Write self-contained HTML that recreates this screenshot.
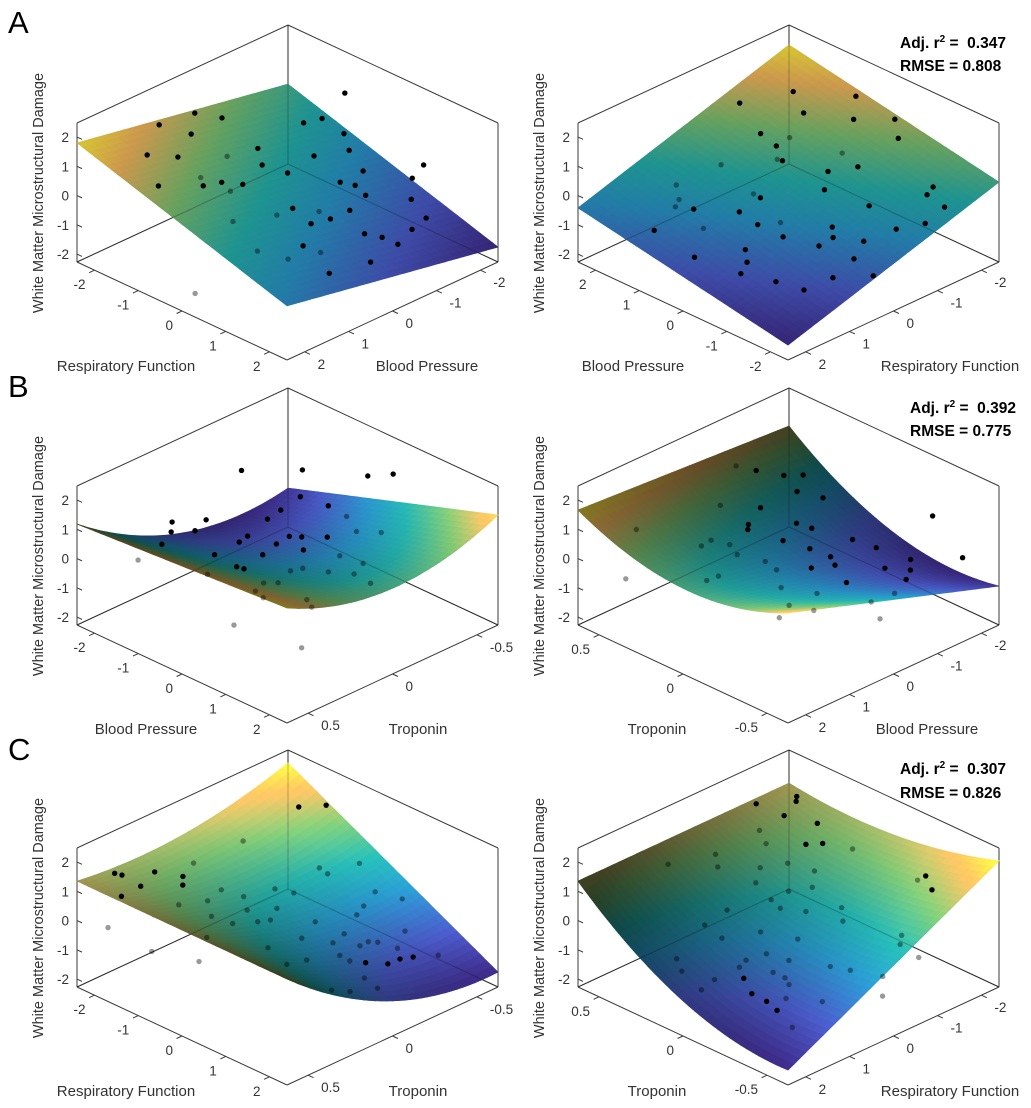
<!DOCTYPE html>
<html><head><meta charset="utf-8"><style>
html,body{margin:0;padding:0;background:#fff;}
svg{display:block;font-family:"Liberation Sans",sans-serif;}
</style></head><body>
<svg id="chart" width="1031" height="1108" viewBox="0 0 1031 1108">
<rect width="1031" height="1108" fill="#fff"/>
<g font-size="31" fill="#000">
<text x="8" y="33">A</text>
<text x="8" y="397">B</text>
<text x="8" y="760">C</text>
</g>
<g font-size="15.5" font-weight="bold" fill="#000">
<text x="900" y="48">Adj. r<tspan dy="-6" font-size="10">2</tspan><tspan dy="6"> =&#160; 0.347</tspan></text>
<text x="900" y="71">RMSE = 0.808</text>
<text x="910" y="413">Adj. r<tspan dy="-6" font-size="10">2</tspan><tspan dy="6"> =&#160; 0.392</tspan></text>
<text x="910" y="436">RMSE = 0.775</text>
<text x="900" y="774">Adj. r<tspan dy="-6" font-size="10">2</tspan><tspan dy="6"> =&#160; 0.307</tspan></text>
<text x="900" y="798">RMSE = 0.826</text>
</g>
</svg>
<script>
// ---- data ----
const rowA_resp=[-1.65,-2.23,-2.27,-2.0,-1.84,-1.42,-0.91,-0.64,-0.61,-1.13,-0.74,-0.44,0.2,-1.4,-1.39,-1.0,-0.92,-0.53,-0.62,0,0.45,0.8,0.1,0.54,0.9,1.4,1.56,1.55,1.37,0.77,0.84,0.83,1.26,0.38,-0.41,2.01,2.02,1.8,0.15,0.94,1.3,1.35,0.28,0.45,-0.52,-1.0,-1.3,0.26];
const rowA_bp=[1.55,0.7,-0.15,-0.5,0.36,1.08,2.03,1.28,0.89,-0.45,-0.16,0.58,2.3,-1.76,-2.17,-2.3,-2.2,-1.93,-1.22,-1.72,-2.39,-2.3,-1.1,-1.24,-1.92,-1.76,-1.28,-0.61,-0.39,-0.65,-0.14,0.29,0.9,0.26,-0.41,1.05,0.12,-0.72,1.39,1.62,1.28,0.59,0.52,-0.27,0.78,0.98,0.08,-1.28];
const rowA_wm=[1.32,1.35,1.13,0.91,1.07,1.08,1.11,0.78,0.65,0.51,0.42,0.48,-1.6,0.28,0.15,1.2,-0.06,-0.17,0.07,-0.36,-0.76,0,-0.24,-0.48,-0.84,-1.02,-0.96,-0.77,-0.62,-0.42,-0.31,-0.18,-0.21,0.01,0.2,-0.52,-0.78,-0.91,0.19,-0.11,-0.37,-0.59,-0.11,-0.42,0.33,0.6,0.49,-0.36];
const rowB_bp=[-1.1,-1.06,-1.27,-1.48,-1.15,-1.32,-2.17,-1.82,-0.48,0.1,-1.25,-0.88,-0.54,-0.16,0.02,-1.08,-0.96,-0.72,-0.64,-0.37,-0.46,-0.37,-0.21,0.27,0.55,-0.08,0.31,0.3,-0.22,-0.12,-0.03,-0.51,-0.13,0.4,0.48,0.52,0.72,1.02,1.21,0.75,1.05,0.57,1.13,2.02];
const rowB_trop=[0.6,0.47,0.36,0.3,0.25,0.14,-0.29,-0.56,-0.6,-0.6,-0.4,-0.47,-0.49,-0.45,-0.55,-0.24,-0.13,0.05,0.12,-0.03,-0.13,-0.18,-0.29,-0.24,-0.1,-0.115,-0.01,0.06,0.09,0.27,0.25,0.3,0.44,0.245,0.18,0.325,0.33,0.15,0.17,-0.2,-0.22,-0.3,0.61,0.44];
const rowB_wm=[0.79,1.01,0.99,1.02,0.82,0.78,0.72,0.26,0.88,1.35,0.17,-0.07,-0.25,-0.39,-0.57,0.26,0.33,0.4,0.44,0.16,0.09,0,-0.19,-0.36,-0.34,-0.07,-0.14,-0.05,0.22,0.36,0.3,0.58,0.55,0.1,-0.01,0.12,0.05,-0.29,-0.36,-0.54,-0.7,-0.57,0.15,-0.46];
const rowC_resp=[-1.71,-2.06,-1.97,-1.52,-1.62,-1.84,-0.71,-1.8,-1.58,-1.39,-0.98,-0.9,-1.05,-0.54,-1.98,-0.77,-0.46,-0.25,0.37,-0.11,-0.14,-0.1,-0.75,-0.32,0.48,0.95,-0.55,-1.44,-1.2,-0.93,-0.82,-0.67,-0.08,0.23,0.16,0.31,0.95,0.64,0.77,0.96,1.0,1.02,1.56,1.53,1.56,1.4,1.27,1.78,1.93,1.72,2.02,1.08,0.98,0.48,0.21,1.67,1.28];
const rowC_trop=[0.62,0.49,0.47,0.59,0.45,0.31,0.62,0.09,0.21,0.26,0.39,0.24,0.12,0.31,-0.25,0.06,0.12,0.26,0.62,0.45,0.14,0.075,-0.12,-0.02,0.24,0.25,-0.18,-0.44,-0.54,-0.43,-0.45,-0.6,-0.54,-0.62,-0.41,-0.33,-0.45,-0.17,-0.07,-0.23,-0.17,-0.27,-0.34,-0.27,-0.19,-0.1,-0.04,0.2,0.13,-0.01,-0.01,-0.03,0.14,0.04,-0.11,-0.46,-0.32];
const rowC_wm=[0.23,1.49,1.44,1.35,1.25,1.21,0.11,0.95,0.97,0.94,0.9,0.69,0.64,0.6,0.67,0.44,0.36,0.42,0.52,0.55,0.24,0.15,0.24,0.14,0.05,-0.16,0.08,1.7,1.66,0,-0.18,-0.12,-0.52,-0.76,-0.49,-0.47,-0.9,-0.46,-0.41,-0.67,-0.62,-0.75,-1.07,-0.97,-0.9,-0.73,-0.6,-0.6,-0.73,-0.79,-0.93,-0.52,-0.29,-0.16,-0.19,-1.25,-0.91];
// fitted surface coefficients: [1, u, v, v^2, u*v, u*v^2]
const surfA=[1.8,-2.22,-1.34,0,0,0];
const surfB=[1.18,0.48,-5.79,3.67,1.95,0];
const surfC=[1.35,0,-1.09,1.78,-5.48,1.68];
const ticksRB=[-2,-1,0,1,2];
const ticksTrop=[-0.5,0,0.5];
const ticksZ=[-2,-1,0,1,2];

// ---- geometry ----
const NS='http://www.w3.org/2000/svg';
const svg=document.getElementById('chart');
const ROW_Y=[0,363,725],COL_X=[0,501];
const L0=[77,262],F0=[287,360],R0=[498,262],ZMIN=-2.27,ZMAX=2.48,HPX=139;
function mk(tag,attrs,name,parent){
  const e=document.createElementNS(NS,tag);
  for(const k in attrs)e.setAttribute(k,attrs[k]);
  
  
  (parent||svg).appendChild(e);return e;
}
function proj(ox,oy,u,v,z){
  const x=L0[0]+u*(F0[0]-L0[0])+v*(R0[0]-F0[0]);
  const y=L0[1]+u*(F0[1]-L0[1])+v*(R0[1]-F0[1])-(z-ZMIN)/(ZMAX-ZMIN)*HPX;
  return [ox+x,oy+y];
}
const ROWS=[
 {x:rowA_resp,y:rowA_bp,z:rowA_wm,coef:surfA,yHalf:2.4},
 {x:rowB_bp,y:rowB_trop,z:rowB_wm,coef:surfB,yHalf:0.625},
 {x:rowC_resp,y:rowC_trop,z:rowC_wm,coef:surfC,yHalf:0.625}
];
function surfZ(row,x,y){
  const c=row.coef;const u=(x+2.4)/4.8;const v=(row.yHalf-y)/(2*row.yHalf);
  return c[0]+c[1]*u+c[2]*v+c[3]*v*v+c[4]*u*v+c[5]*u*v*v;
}
// world-fixed lighting, computed in reference (left-panel) coordinates
function shade(row,x,y){
  const c=row.coef;const u=(x+2.4)/4.8;const v=(row.yHalf-y)/(2*row.yHalf);
  const sc=29.26/232;
  const zu=(c[1]+c[4]*v+c[5]*v*v)*sc, zv=(c[2]+2*c[3]*v+c[4]*u+2*c[5]*u*v)*sc;
  const lx=0.3,ly=-1,lz=0.6,ln=Math.hypot(lx,ly,lz);
  const dot=(-zu*lx-zv*ly+lz)/(Math.hypot(zu,zv,1)*ln);
  return Math.max(0.35,Math.min(1.12,0.45+1.0*dot));
}
const RF='Respiratory Function',BPt='Blood Pressure',TR='Troponin';
const PANELS=[
 {row:0,col:0,u:{k:0,a:-2.4,b:2.4,t:RF,tx:126,ticks:ticksRB},v:{k:1,a:2.4,b:-2.4,t:BPt,tx:427,ticks:ticksRB}},
 {row:0,col:1,u:{k:1,a:2.4,b:-2.4,t:BPt,tx:132,ticks:ticksRB},v:{k:0,a:2.4,b:-2.4,t:RF,tx:449,ticks:ticksRB}},
 {row:1,col:0,u:{k:0,a:-2.4,b:2.4,t:BPt,tx:146,ticks:ticksRB},v:{k:1,a:0.625,b:-0.625,t:TR,tx:418,ticks:ticksTrop}},
 {row:1,col:1,u:{k:1,a:0.625,b:-0.625,t:TR,tx:156,ticks:ticksTrop},v:{k:0,a:2.4,b:-2.4,t:BPt,tx:426,ticks:ticksRB}},
 {row:2,col:0,u:{k:0,a:-2.4,b:2.4,t:RF,tx:126,ticks:ticksRB},v:{k:1,a:0.625,b:-0.625,t:TR,tx:418,ticks:ticksTrop}},
 {row:2,col:1,u:{k:1,a:0.625,b:-0.625,t:TR,tx:156,ticks:ticksTrop},v:{k:0,a:2.4,b:-2.4,t:RF,tx:449,ticks:ticksRB}}
];
const STOPS=[[0,[62,42,135]],[0.2,[72,88,195]],[0.4,[40,145,195]],[0.55,[35,172,168]],[0.72,[120,188,110]],[0.88,[238,178,90]],[1,[250,232,60]]];
function cmap(t){
  t=Math.max(0,Math.min(1,t));
  for(let i=1;i<STOPS.length;i++){if(t<=STOPS[i][0]){const a=STOPS[i-1],b=STOPS[i];const f=(t-a[0])/(b[0]-a[0]);return a[1].map((c,j)=>c+(b[1][j]-c)*f);}}
  return STOPS[STOPS.length-1][1];
}
function fmt(v){return String(v);}

PANELS.forEach((P,pi)=>{
  const row=ROWS[P.row];const ox=COL_X[P.col],oy=ROW_Y[P.row];
  const g=mk('g',{},'panel-'+'abc'[P.row]+(P.col?'-right':'-left'));
  const dataAt=(u,v)=>{const d=[0,0];d[P.u.k]=P.u.a+(P.u.b-P.u.a)*u;d[P.v.k]=P.v.a+(P.v.b-P.v.a)*v;return d;};
  const Z=(u,v)=>{const d=dataAt(u,v);return surfZ(row,d[0],d[1]);};
  const box=mk('g',{stroke:'#3a3a3a','stroke-width':'1',fill:'none'},'axes-box',g);
  const Lb=proj(ox,oy,0,0,ZMIN),Lt=proj(ox,oy,0,0,ZMAX),Bb=proj(ox,oy,0,1,ZMIN),Bt=proj(ox,oy,0,1,ZMAX),Rb=proj(ox,oy,1,1,ZMIN),Rt=proj(ox,oy,1,1,ZMAX),Fb=proj(ox,oy,1,0,ZMIN);
  const lines=[[Lb,Lt],[Bb,Bt],[Rb,Rt],[Lt,Bt],[Bt,Rt],[Lb,Bb],[Bb,Rb],[Lb,Fb],[Fb,Rb]];
  lines.forEach(l=>{mk('line',{x1:l[0][0],y1:l[0][1],x2:l[1][0],y2:l[1][1]},'box-edge',box);});
  const zt=mk('g',{'font-size':'13.5',fill:'#333','text-anchor':'end'},'z-axis',g);
  ticksZ.forEach(t=>{const p=proj(ox,oy,0,0,t);
    mk('line',{x1:p[0],y1:p[1],x2:p[0]+5,y2:p[1]+2.3,stroke:'#3a3a3a'},'z-tick',zt);
    const tx=mk('text',{x:p[0]-8,y:p[1]+5},'z-tick-label',zt);tx.textContent=fmt(t);});
  const yl=mk('text',{x:0,y:0,'font-size':'14.5',fill:'#333','text-anchor':'middle',transform:`translate(${ox+43},${oy+193}) rotate(-90)`},'z-axis-title',g);
  yl.textContent='White Matter Microstructural Damage';
  const ua=mk('g',{'font-size':'13.5',fill:'#333'},'u-axis',g);
  P.u.ticks.forEach(t=>{const u=(t-P.u.a)/(P.u.b-P.u.a);const p=proj(ox,oy,u,0,ZMIN);
    mk('line',{x1:p[0],y1:p[1],x2:p[0]-5.4,y2:p[1]+2.5,stroke:'#3a3a3a'},'u-tick',ua);
    const tx=mk('text',{x:p[0]-9,y:p[1]+19,'text-anchor':'end'},'u-tick-label',ua);tx.textContent=fmt(t);});
  const ut=mk('text',{x:ox+P.u.tx,y:oy+371,'font-size':'15',fill:'#333','text-anchor':'middle'},'u-axis-title',ua);ut.textContent=P.u.t;
  const va=mk('g',{'font-size':'13.5',fill:'#333'},'v-axis',g);
  P.v.ticks.forEach(t=>{const v=(t-P.v.a)/(P.v.b-P.v.a);const p=proj(ox,oy,1,v,ZMIN);
    mk('line',{x1:p[0],y1:p[1],x2:p[0]+5.4,y2:p[1]+2.5,stroke:'#3a3a3a'},'v-tick',va);
    const tx=mk('text',{x:p[0]+13,y:p[1]+17,'text-anchor':'start'},'v-tick-label',va);tx.textContent=fmt(t);});
  const vt=mk('text',{x:ox+P.v.tx,y:oy+371,'font-size':'15',fill:'#333','text-anchor':'middle'},'v-axis-title',va);vt.textContent=P.v.t;
  const N=36;let zmin=1e9,zmax=-1e9;const G=[];
  for(let i=0;i<=N;i++){G[i]=[];for(let j=0;j<=N;j++){const z=Z(i/N,j/N);G[i][j]=z;zmin=Math.min(zmin,z);zmax=Math.max(zmax,z);}}
  const quads=[];
  for(let i=0;i<N;i++)for(let j=0;j<N;j++){quads.push([i,j,(i-j)]);}
  quads.sort((a,b)=>a[2]-b[2]);
  const behind=[],front=[];
  row.x.forEach((xv,k)=>{
    const d=[row.x[k],row.y[k]];
    const u=(d[P.u.k]-P.u.a)/(P.u.b-P.u.a),v=(d[P.v.k]-P.v.a)/(P.v.b-P.v.a);
    const zs=surfZ(row,row.x[k],row.y[k]);
    const p=proj(ox,oy,u,v,row.z[k]);
    (row.z[k]>=zs?front:behind).push(p);
  });
  const sg=mk('g',{},'fitted-surface',g);
  quads.forEach(q=>{const i=q[0],j=q[1];
    const z00=G[i][j],z10=G[i+1][j],z11=G[i+1][j+1],z01=G[i][j+1];
    const dc=dataAt((i+0.5)/N,(j+0.5)/N);
    const f=shade(row,dc[0],dc[1]);
    const zc=(z00+z10+z11+z01)/4;const c=cmap((zc-zmin)/(zmax-zmin)).map(x=>Math.round(Math.min(255,x*f)));
    const col=`rgb(${c[0]},${c[1]},${c[2]})`;
    const pts=[proj(ox,oy,i/N,j/N,z00),proj(ox,oy,(i+1)/N,j/N,z10),proj(ox,oy,(i+1)/N,(j+1)/N,z11),proj(ox,oy,i/N,(j+1)/N,z01)];
    mk('polygon',{points:pts.map(p=>p[0].toFixed(1)+','+p[1].toFixed(1)).join(' '),fill:col,stroke:col,'stroke-width':'0.7'},'surface-patch',sg);
  });
  mk('line',{x1:Lb[0],y1:Lb[1],x2:Bb[0],y2:Bb[1],stroke:'#000','stroke-opacity':'0.25'},'box-edge-through',g);
  mk('line',{x1:Bb[0],y1:Bb[1],x2:Rb[0],y2:Rb[1],stroke:'#000','stroke-opacity':'0.25'},'box-edge-through',g);
  mk('line',{x1:Bb[0],y1:Bb[1],x2:Bt[0],y2:Bt[1],stroke:'#000','stroke-opacity':'0.25'},'box-edge-through',g);
  const pg=mk('g',{},'data-points',g);
  behind.forEach(p=>{mk('circle',{cx:p[0],cy:p[1],r:2.7,fill:'#000','fill-opacity':'0.4'},'data-point-hidden',pg);});
  front.forEach(p=>{mk('circle',{cx:p[0],cy:p[1],r:2.7,fill:'#000'},'data-point',pg);});
});
</script>
</body></html>
